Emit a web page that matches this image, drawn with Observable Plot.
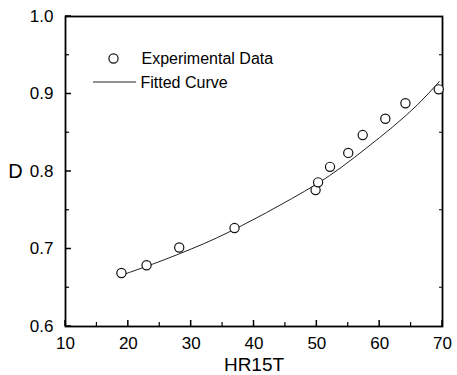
<!DOCTYPE html>
<html>
<head>
<meta charset="utf-8">
<script src="https://cdn.jsdelivr.net/npm/d3@7"></script>
<script src="https://cdn.jsdelivr.net/npm/@observablehq/plot@0.6"></script>
<style>
  html, body { margin: 0; padding: 0; background: #fff; }
  #chart { width: 457px; height: 375px; }
</style>
</head>
<body>
<div id="chart"></div>
<script>
const expHR = [18.9, 22.9, 28.1, 36.9, 49.8, 50.2, 52.1, 55.0, 57.3, 60.9, 64.1, 69.4];
const expD  = [0.669, 0.679, 0.702, 0.727, 0.776, 0.786, 0.806, 0.824, 0.847, 0.868, 0.888, 0.906];

// Fitted curve
const fitHR = [18.5, 22, 26, 30, 34, 38, 42, 46, 50, 54, 58, 62, 66, 69.5];
const fitD  = [0.665, 0.675, 0.687, 0.700, 0.714, 0.730, 0.747, 0.765, 0.784, 0.806, 0.831, 0.857, 0.886, 0.916];

// Axis ticks
const xMajor = [10, 20, 30, 40, 50, 60, 70];
const xMinor = [15, 25, 35, 45, 55, 65];
const yMajor = [0.6, 0.7, 0.8, 0.9, 1.0];
const yMinor = [0.65, 0.75, 0.85, 0.95];

const legendLabels = ["Experimental Data", "Fitted Curve"];
const xLabel = "HR15T";
const yLabel = "D";

const expData = expHR.map((x, i) => ({x, y: expD[i]}));
const fitData = fitHR.map((x, i) => ({x, y: fitD[i]}));

const ns = "http://www.w3.org/2000/svg";
function svgLine(g, x1, y1, x2, y2, w, color) {
  const l = document.createElementNS(ns, "line");
  l.setAttribute("x1", x1); l.setAttribute("x2", x2);
  l.setAttribute("y1", y1); l.setAttribute("y2", y2);
  l.setAttribute("stroke", color || "#000");
  l.setAttribute("stroke-width", w);
  g.appendChild(l);
}

// inward ticks drawn from the plot's own scales
const inwardTicks = (index, scales, values, dims) => {
  const g = document.createElementNS(ns, "g");
  const yb = dims.height - dims.marginBottom;
  const xl = dims.marginLeft;
  const xr = dims.width - dims.marginRight;
  for (const t of xMajor) { const x = scales.x(t); svgLine(g, x, yb, x, yb - 6, 1.5); }
  for (const t of xMinor) { const x = scales.x(t); svgLine(g, x, yb, x, yb - 4, 1.2); }
  for (const t of yMajor) { const y = scales.y(t); svgLine(g, xl, y, xl + 6, y, 1.5); }
  for (const t of yMinor) { const y = scales.y(t); svgLine(g, xl, y, xl + 4, y, 1.2); }
  for (const t of yMinor) { const y = scales.y(t); svgLine(g, xr, y, xr - 3, y, 1); }
  return g;
};

const legendLine = (index, scales, values, dims) => {
  const g = document.createElementNS(ns, "g");
  svgLine(g, dims.marginLeft + 28, dims.marginTop + 66, dims.marginLeft + 71, dims.marginTop + 66, 1, "#222");
  return g;
};

const chart = Plot.plot({
  width: 457,
  height: 375,
  marginLeft: 65,
  marginRight: 15,
  marginTop: 16,
  marginBottom: 49,
  style: {fontFamily: "'Liberation Sans', Arial, sans-serif", color: "#000", background: "#fff"},
  x: {domain: [10, 70]},
  y: {domain: [0.6, 1.0]},
  marks: [
    Plot.axisX({ticks: xMajor, tickSize: 0, tickPadding: 10, tickFormat: d3.format(".0f"), label: null, fontSize: 17}),
    Plot.axisY({ticks: yMajor, tickSize: 0, tickPadding: 12, tickFormat: d3.format(".1f"), label: null, fontSize: 17}),
    inwardTicks,
    Plot.frame({stroke: "#000", strokeWidth: 1.8}),
    Plot.line(fitData, {x: "x", y: "y", curve: "natural", stroke: "#222", strokeWidth: 1}),
    Plot.dot(expData, {x: "x", y: "y", r: 4.6, stroke: "#111", fill: "#fff", strokeWidth: 1.2}),
    // legend
    Plot.dot([legendLabels[0]], {frameAnchor: "top-left", dx: 48, dy: 42, r: 4.6, stroke: "#111", fill: "#fff", strokeWidth: 1.2}),
    Plot.text([legendLabels[0]], {frameAnchor: "top-left", dx: 76, dy: 42, text: d => d, textAnchor: "start", lineAnchor: "middle", fontSize: 16}),
    legendLine,
    Plot.text([legendLabels[1]], {frameAnchor: "top-left", dx: 75, dy: 66, text: d => d, textAnchor: "start", lineAnchor: "middle", fontSize: 16}),
    // axis titles
    Plot.text([xLabel], {frameAnchor: "bottom", dy: 38, text: d => d, lineAnchor: "middle", fontSize: 19}),
    Plot.text([yLabel], {frameAnchor: "left", dx: -50, text: d => d, textAnchor: "middle", lineAnchor: "middle", fontSize: 20})
  ]
});
document.getElementById("chart").appendChild(chart);
</script>
</body>
</html>
